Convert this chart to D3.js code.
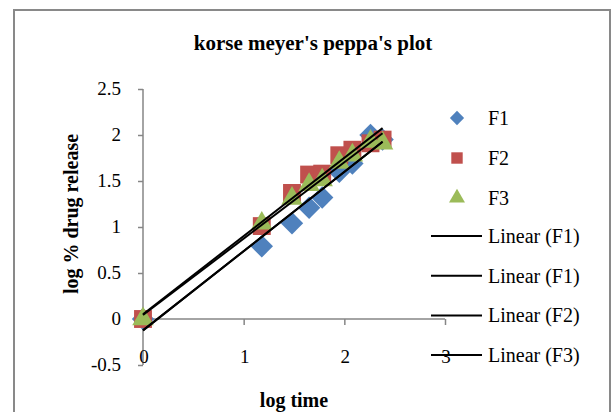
<!DOCTYPE html>
<html>
<head>
<meta charset="utf-8">
<script src="https://cdn.jsdelivr.net/npm/d3@7"></script>
<style>
  body { margin: 0; background: #fff; }
  text { font-family: "Liberation Serif", "Times New Roman", serif; }
</style>
</head>
<body>
<svg id="chart"></svg>
<script>
// log time (x) shared by all three formulations
const logTime = [0, 1.18, 1.48, 1.65, 1.78, 1.95, 2.08, 2.26, 2.38];
// log % drug release
const f1 = [0, 0.79, 1.04, 1.21, 1.32, 1.60, 1.69, 2.00, 1.95];
const f2 = [0, 1.01, 1.37, 1.57, 1.58, 1.78, 1.84, 1.91, 1.95];
const f3 = [0, 1.04, 1.31, 1.46, 1.51, 1.70, 1.78, 1.93, 1.91];
const seriesNames = ["F1", "F2", "F3"];
const trendNames = ["Linear (F1)", "Linear (F1)", "Linear (F2)", "Linear (F3)"];
const xTicks = [0, 1, 2, 3];
const yTicks = [-0.5, 0, 0.5, 1, 1.5, 2, 2.5];

const svgWidth = 616, svgHeight = 412;
const colors = ["#4F81BD", "#C0504D", "#9BBB59"];
const shapes = [d3.symbolDiamond2, d3.symbolSquare, d3.symbolTriangle];

let svg = d3.select("#chart").attr("width", svgWidth).attr("height", svgHeight);

//OUTER FRAME
svg.append("rect")
  .attr("x", 14).attr("y", 10)
  .attr("width", 596).attr("height", 420)
  .attr("fill", "none")
  .attr("stroke", "#898989")
  .attr("stroke-width", 2);

//SCALES
let x = d3.scaleLinear().domain([0, 3]).range([143, 445]);
let y = d3.scaleLinear().domain([-0.5, 2.5]).range([365, 89]);

let axisColor = "#868686";
let g = svg.append("g");

//Y AXIS
let yAxis = g.append("g")
  .attr("transform", "translate(" + x(0) + ",0)")
  .call(d3.axisLeft(y).tickValues(yTicks).tickSize(5).tickFormat(""));
yAxis.selectAll("line, path").attr("stroke", axisColor).attr("stroke-width", 1.5);
yAxis.select(".domain").attr("d", "M0," + y(2.5) + "V" + y(-0.5));

//X AXIS at y = 0
let xAxis = g.append("g")
  .attr("transform", "translate(0," + y(0) + ")")
  .call(d3.axisBottom(x).tickValues(xTicks).tickSize(6).tickFormat(""));
xAxis.selectAll("line, path").attr("stroke", axisColor).attr("stroke-width", 1.5);
xAxis.select(".domain").attr("d", "M" + x(0) + ",0H" + x(3));

//TICK LABELS
g.selectAll(".ylab")
  .data(yTicks)
  .enter()
  .append("text")
  .attr("x", 121)
  .attr("y", d => y(d) + 6)
  .attr("text-anchor", "end")
  .style("font-size", "19px")
  .text(d => d);

g.selectAll(".xlab")
  .data(xTicks)
  .enter()
  .append("text")
  .attr("x", d => x(d) + 1)
  .attr("y", 363)
  .attr("text-anchor", "middle")
  .style("font-size", "19px")
  .text(d => d);

//TITLES
svg.append("text")
  .attr("x", 313).attr("y", 50)
  .attr("text-anchor", "middle")
  .style("font-size", "21px").style("font-weight", "bold")
  .text("korse meyer's peppa's plot");
svg.append("text")
  .attr("x", 294).attr("y", 407)
  .attr("text-anchor", "middle")
  .style("font-size", "20px").style("font-weight", "bold")
  .text("log time");
svg.append("text")
  .attr("transform", "translate(78,214) rotate(-90)")
  .attr("text-anchor", "middle")
  .style("font-size", "20px").style("font-weight", "bold")
  .text("log % drug release");

//POINTS
let allSeries = [f1, f2, f3];
allSeries.forEach(function(vals, s) {
  g.selectAll(".pt" + s)
    .data(vals)
    .enter()
    .append("path")
    .attr("d", d3.symbol().type(shapes[s]).size(s === 2 ? 200 : 320))
    .attr("transform", (d, i) => "translate(" + x(logTime[i]) + "," + y(d) + ")")
    .attr("fill", colors[s]);
});

//TREND LINES (least squares fit)
function fit(vals) {
  let mx = d3.mean(logTime), my = d3.mean(vals);
  let sxy = d3.sum(logTime, (v, i) => (v - mx) * (vals[i] - my));
  let sxx = d3.sum(logTime, v => (v - mx) * (v - mx));
  let b = sxy / sxx;
  return { b: b, a: my - b * mx };
}
let trendSeries = [f1, f1, f2, f3];
let xExt = d3.extent(logTime);
trendSeries.forEach(function(vals) {
  let f = fit(vals);
  g.append("line")
    .attr("x1", x(xExt[0])).attr("y1", y(f.a + f.b * xExt[0]))
    .attr("x2", x(xExt[1])).attr("y2", y(f.a + f.b * xExt[1]))
    .attr("stroke", "#000")
    .attr("stroke-width", 2);
});

//LEGEND
let legend = svg.append("g");
seriesNames.forEach(function(name, s) {
  let ly = 118 + s * 40;
  legend.append("path")
    .attr("d", d3.symbol().type(shapes[s]).size(s === 2 ? 110 : 130))
    .attr("transform", "translate(457," + ly + ")")
    .attr("fill", colors[s]);
  legend.append("text")
    .attr("x", 488).attr("y", ly + 7)
    .style("font-size", "20px")
    .text(name);
});
trendNames.forEach(function(name, k) {
  let ly = 236 + k * 39.7;
  legend.append("line")
    .attr("x1", 431).attr("x2", 482)
    .attr("y1", ly).attr("y2", ly)
    .attr("stroke", "#000").attr("stroke-width", 2);
  legend.append("text")
    .attr("x", 488).attr("y", ly + 7)
    .style("font-size", "20px")
    .text(name);
});
</script>
</body>
</html>
